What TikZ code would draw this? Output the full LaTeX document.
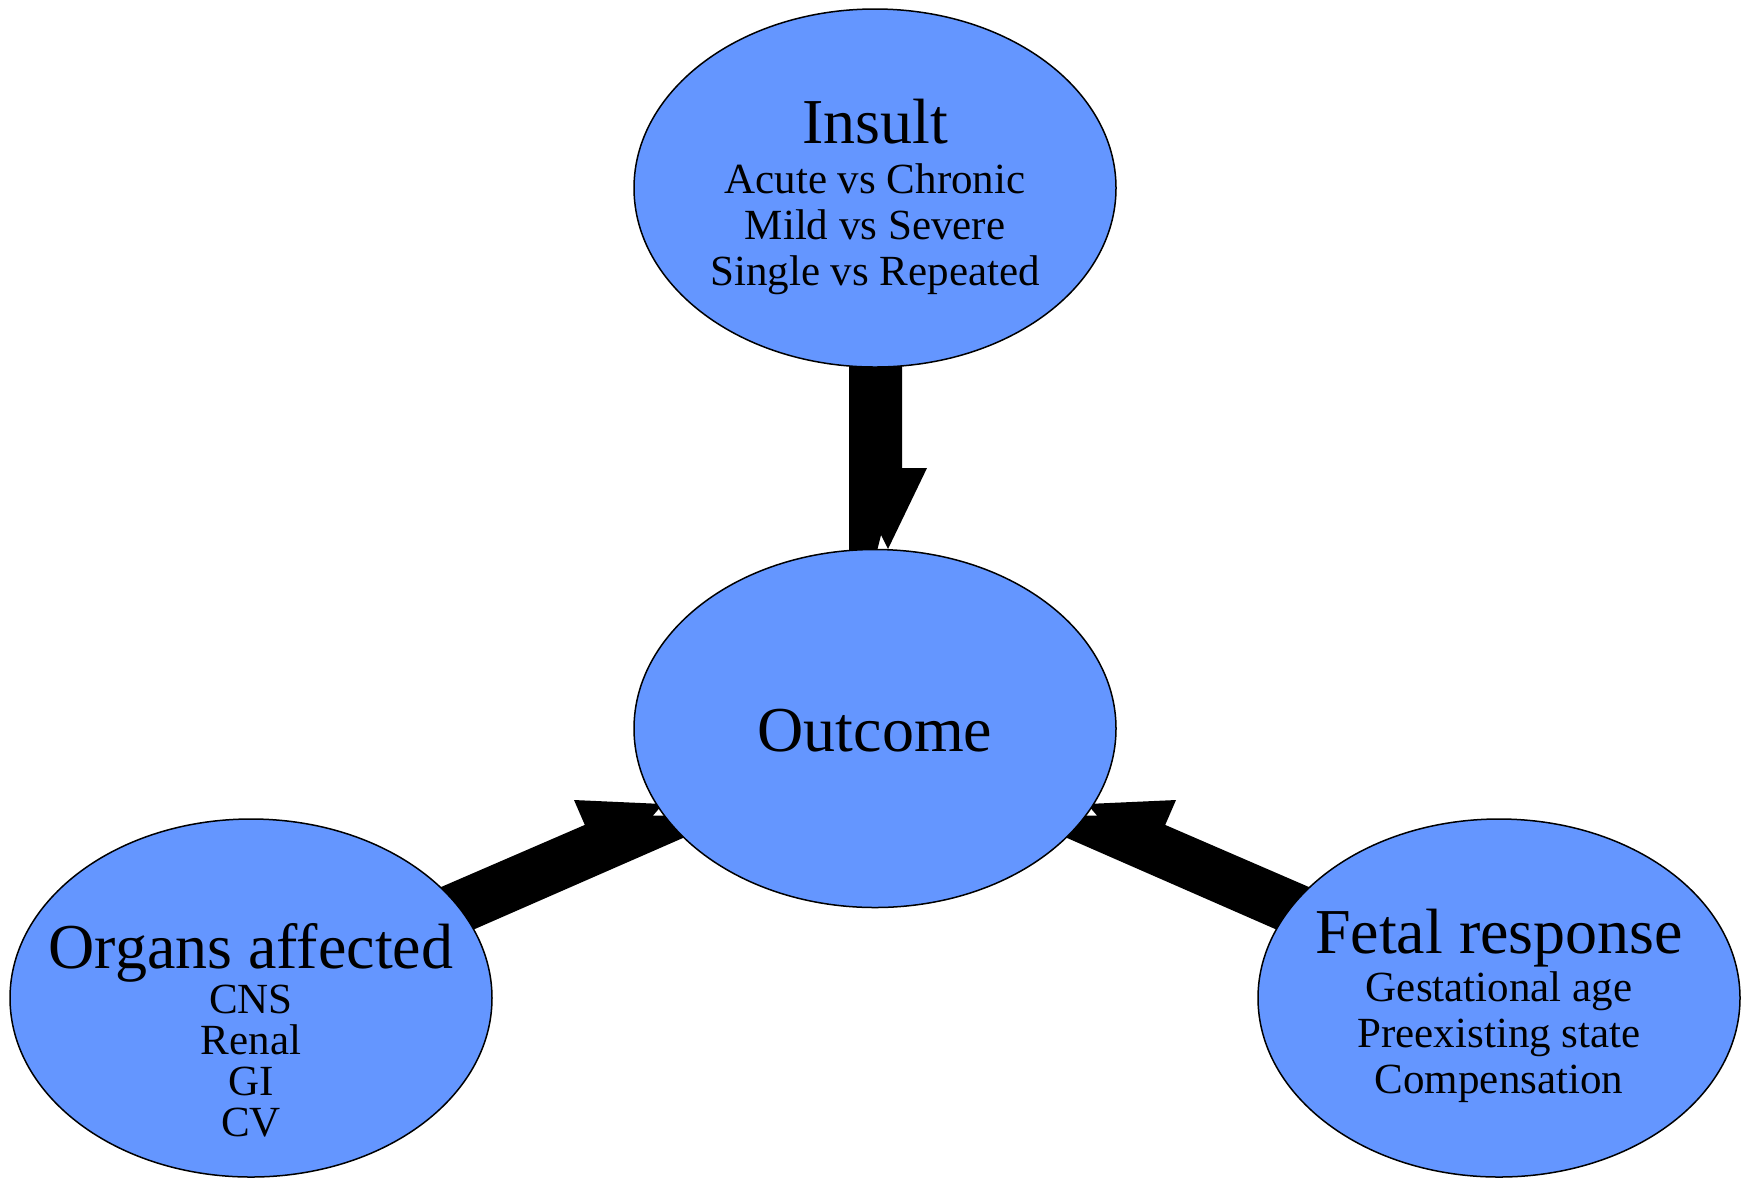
\documentclass[tikz,border=0pt]{standalone}
\usepackage{fontspec}
\setmainfont{Liberation Serif}
\usetikzlibrary{shapes.geometric,backgrounds,calc}
\definecolor{nodeblue}{RGB}{100,150,255}
\begin{document}
\begin{tikzpicture}[x=1pt,y=-1pt,
  bubble/.style={ellipse,draw=black,line width=1.5pt,fill=nodeblue,
    minimum width=482pt,minimum height=358pt,inner sep=0pt,outer sep=0pt},
  titletext/.style={anchor=base,inner sep=0pt,font=\fontsize{64}{70}\selectfont},
  subtext/.style={anchor=base,inner sep=0pt,font=\fontsize{43}{47}\selectfont},
  conn/.style={fill=black}]
\useasboundingbox (0,0) rectangle (1752,1179);

% ellipses
\node[bubble] (insult)  at (875,188) {};
\node[bubble] (outcome) at (875,728.5) {};
\node[bubble] (organs)  at (251,998) {};
\node[bubble] (fetal)   at (1499,998) {};

% texts
\node[titletext] (insultT) at (875,143) {Insult};
\node[subtext] (insultA) at (875,193) {Acute vs Chronic};
\node[subtext] (insultB) at (875,239) {Mild vs Severe};
\node[subtext] (insultC) at (875,285) {Single vs Repeated};

\node[titletext] (outcomeT) at (875,751) {Outcome};

\node[titletext] (organsT) at (251,968) {Organs affected};
\node[subtext] (organsA) at (251,1013) {CNS};
\node[subtext] (organsB) at (251,1054) {Renal};
\node[subtext] (organsC) at (251,1095) {GI};
\node[subtext] (organsD) at (251,1136) {CV};

\node[titletext] (fetalT) at (1499,953) {Fetal response};
\node[subtext] (fetalA) at (1499,1001) {Gestational age};
\node[subtext] (fetalB) at (1499,1047) {Preexisting state};
\node[subtext] (fetalC) at (1499,1093) {Compensation};

% connectors (behind the ellipses)
\begin{scope}[on background layer]
\fill[conn] (insult.center) -- (902,188) -- (902,468) -- (927,468) -- (888,549)
  -- (881,535) -- (877,551) -- (outcome.center) -- (849,551) -- (849,188) -- cycle;
\fill[conn] (organs.center) -- (240.5,973.7) -- (584.8,824.9) -- (574,800)
  -- (663,804) -- (653,815.5) -- (668,815.5) -- (outcome.center)
  -- (696.8,831.9) -- (261.5,1022.3) -- cycle;
\fill[conn] (fetal.center) -- (1509.5,973.7) -- (1165.2,824.9) -- (1176,800)
  -- (1087,804) -- (1097,815.5) -- (1082,815.5) -- (outcome.center)
  -- (1053.2,831.9) -- (1488.5,1022.3) -- cycle;
\end{scope}
\end{tikzpicture}
\end{document}
